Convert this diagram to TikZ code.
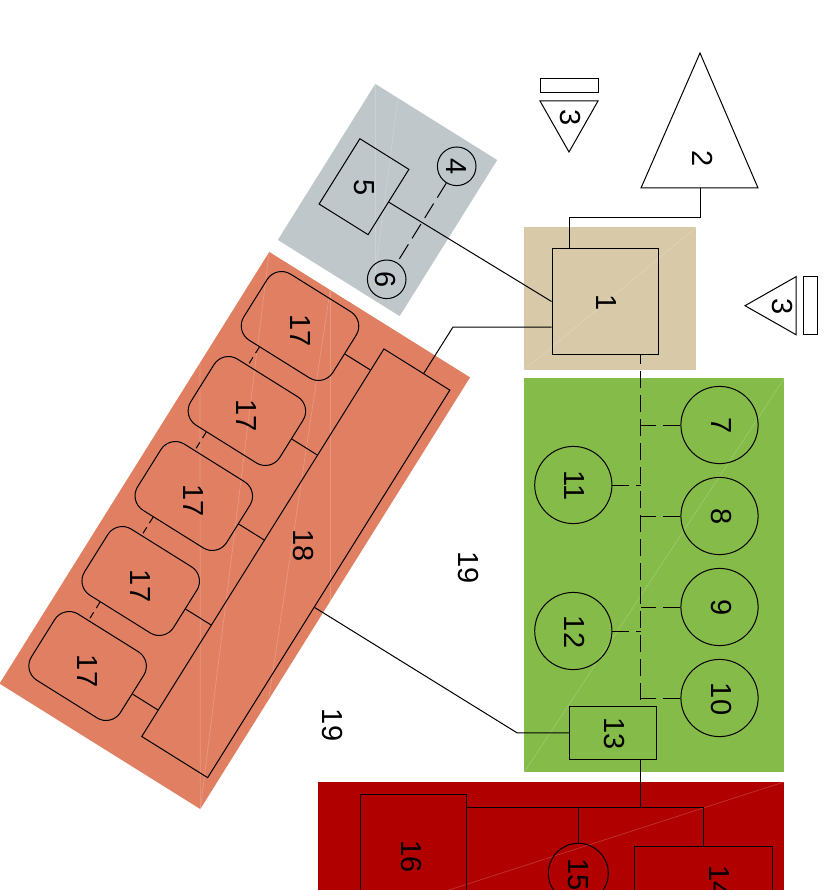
\documentclass[tikz,border=0pt]{standalone}
\usepackage{fontspec}
\setmainfont{Liberation Sans}
\usepackage{xcolor}
\usetikzlibrary{calc,positioning}
\definecolor{zonegray}{HTML}{BFC7CB}
\definecolor{zoneorange}{HTML}{E07F62}
\definecolor{zonetan}{HTML}{D8C9A8}
\definecolor{zonegreen}{HTML}{85BB48}
\definecolor{zonered}{HTML}{B00000}
\newcommand{\shiftnum}[4]{\rotatebox{#1}{\raisebox{#2}[\height][\depth]{\hspace*{#3}#4\hspace*{-#3}}}}
\newcommand{\numr}[1]{\shiftnum{-90}{1.5pt}{1pt}{#1}}
\tikzset{
sysnode/.style = {inner sep=0pt, draw=black, line width=1pt, font=\fontsize{29}{32}\selectfont},
sys_box/.style = {sysnode, rectangle},
sys_circ/.style = {sysnode, circle},
sys_tilt/.style = {sysnode, rectangle, rotate=-32},% gekippte Bloecke
sys_soft/.style = {sys_tilt, rounded corners=17pt, minimum width=105pt, minimum height=78pt},
sys_txt/.style = {inner sep=0pt, font=\fontsize{29}{32}\selectfont},
zone/.style = {rectangle, inner sep=0pt},
seam/.style = {draw=white, opacity=0.2, line width=0.7pt},
wire/.style = {draw=black, line width=1pt},
wire_d/.style = {wire, dash pattern=on 17pt off 7pt},
wire_s/.style = {wire, dash pattern=on 7pt off 5pt}
}
\begin{document}
\begin{tikzpicture}[x=1pt,y=-1pt]
	\path[use as bounding box, clip] (0,0) rectangle (835,890);
	% Zonen
	\node [zone, fill=zonegray, rotate=-32, minimum width=143.7pt, minimum height=184pt] (z_gray) at (387.5,200) {};
	\node [zone, fill=zoneorange, rotate=-32, minimum width=236.7pt, minimum height=509pt] (z_orange) at (234.8,530.5) {};
	\node [zone, fill=zonetan, minimum width=172pt, minimum height=142.7pt] (z_tan) at (610.3,298.4) {};
	\node [zone, fill=zonegreen, minimum width=260pt, minimum height=394pt] (z_green) at (654.3,575.2) {};
	\node [zone, fill=zonered, minimum width=466pt, minimum height=150pt] (z_red) at (551.3,857) {};
	\draw[seam] (z_tan.south west) -- (z_tan.north east);
	\draw[seam] (z_green.south west) -- (z_green.north east);
	\draw[seam] (z_red.south west) -- (z_red.north east);
	\draw[seam] (z_orange.north west) -- (z_orange.south east);
	\draw[seam] (200,363) -- (z_orange.south east);
	\draw[seam] (330,291) -- (330,601);
	\draw[seam] (330,291) -- (269,697);
	\draw[seam] (375.5,84) -- (375.5,286);
	\draw[seam] (398,98) -- (375.5,270);
	% Bloecke
	\node [sys_box, minimum size=106.5pt] (r1) at (605.3,301.5) {\numr{1}};
	\node [sys_tilt, minimum width=57.8pt, minimum height=77pt] (r5) at (364,186.7) {\shiftnum{-58}{0pt}{1pt}{5}};
	\node [sys_circ, minimum size=38.6pt] (c4) at (456.7,166.3) {\shiftnum{-90}{0pt}{0pt}{4}};
	\node [sys_circ, minimum size=38.6pt] (c6) at (386.7,279.3) {\shiftnum{-90}{-1pt}{0pt}{6}};
	\foreach \n/\y in {7/425,8/516,9/607,10/698}
		\node [sys_circ, minimum size=77.2pt] (c\n) at (719.5,\y) {\numr{\n}};
	\foreach \n/\y in {11/485,12/631}
		\node [sys_circ, minimum size=77.2pt] (c\n) at (573.3,\y) {\numr{\n}};
	\node [sys_box, minimum width=86.7pt, minimum height=53pt] (r13) at (612.7,732.8) {\numr{13}};
	\node [sys_box, minimum width=138.4pt, minimum height=68pt] (r14) at (703.5,880.3) {\shiftnum{-90}{15.5pt}{1pt}{14}};
	\node [sys_circ, minimum size=60pt] (c15) at (578.3,873.3) {\shiftnum{-90}{0pt}{1pt}{15}};
	\node [sys_box, minimum width=106.4pt, minimum height=124pt] (r16) at (413.5,856.3) {\shiftnum{-90}{-2.5pt}{0pt}{16}};
	\node [sys_tilt, minimum width=77.7pt, minimum height=457pt] (r18) at (295.8,563.3) {};
	\foreach \n in {0,...,4}
		\node [sys_soft] (a\n) at ({300-53.1*\n},{326+85*\n}) {\shiftnum{-58}{0pt}{5pt}{17}};
	% Dreiecke
	\draw[wire] (700,53) -- (758,188) -- (641,188) -- cycle;
	\draw[wire] (540,101) -- (598,101) -- (569,152) -- cycle;
	\draw[wire] (745,305.7) -- (796,276.7) -- (796,334.7) -- cycle;
	\node [zone, draw=black, line width=1pt, minimum width=58pt, minimum height=14pt] (s3a) at (569,86) {};
	\node [zone, draw=black, line width=1pt, minimum width=14.3pt, minimum height=58pt] (s3b) at (810.8,305.7) {};
	\node [sys_txt] (t2) at (701,158) {\numr{2}};
	\node [sys_txt] (t3a) at (569,117) {\numr{3}};
	\node [sys_txt] (t3b) at (781,306) {\numr{3}};
	\node [sys_txt] (t18) at (301.5,544.5) {\numr{18}};
	\node [sys_txt] (t19a) at (466.5,566.5) {\numr{19}};
	\node [sys_txt] (t19b) at (331,724) {\numr{19}};
	% Hilfspunkte
	\coordinate (c2) at (700,188);
	\coordinate (k2) at (569,218);
	\coordinate (k18) at (453,327);
	\coordinate (k13) at (517,732.8);
	\coordinate (bus) at (640.5,0);
	\coordinate (jn) at (640.5,807);
	% Verbindungen
	\draw[wire] (c2) |- (k2) -- (k2 |- r1.north);
	\draw[wire] (r5.east) -- (r1.west);
	\draw[wire_d] (c4) -- (c6);
	\draw[wire] ($(r18.north west)!0.6!(r18.north east)$) -- (k18) -- (k18 -| r1.west);
	\draw[wire] ($(r18.north east)!0.56!(r18.south east)$) -- (k13) -- (r13.west);
	\draw[wire_d, dash phase=8pt] (r1.south -| bus) -- (r13.north -| bus);
	\foreach \n in {7,8,9,10}
		\draw[wire_d] (c\n.west) -- (c\n.west -| bus);
	\foreach \n in {11,12}
		\draw[wire_d] (c\n.east) -- (c\n.east -| bus);
	\draw[wire] (r13.south -| bus) -- (jn);
	\draw[wire] (jn -| r16.east) -- (jn -| r14.north);
	\draw[wire] (r14.north |- jn) -- (r14.north);
	\draw[wire] (c15.north |- jn) -- (c15.north);
	\foreach \n in {0,...,4}
		\draw[wire] (a\n.east) -- ($(r18.south west)!(a\n.east)!(r18.north west)$);
	\foreach \n/\m in {0/1,1/2,2/3,3/4}
		\draw[wire_s] ($(a\n.south)!0.44!(a\n.south west)$) -- ($(a\m.north)!0.44!(a\m.north west)$);
\end{tikzpicture}
\end{document}
